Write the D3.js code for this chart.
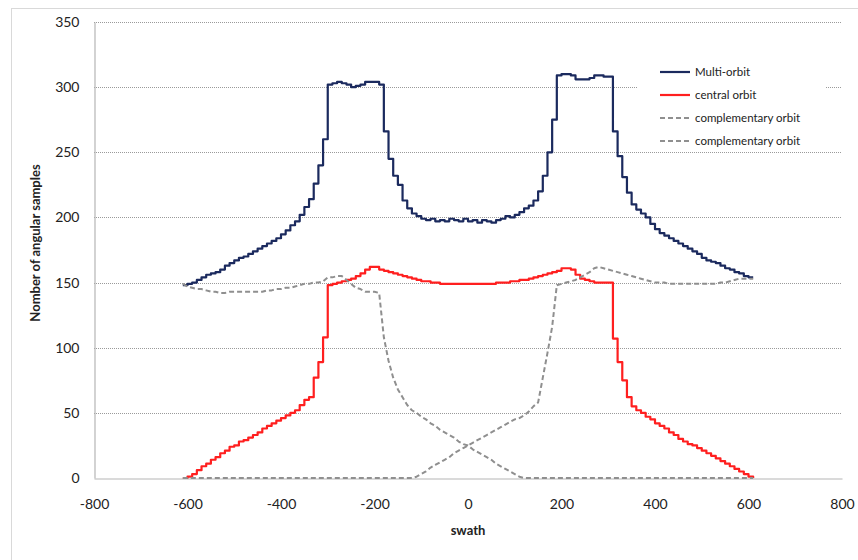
<!DOCTYPE html>
<html lang="en">
<head>
<meta charset="UTF-8">
<title>Angular samples across swath</title>
<style>
  body { margin: 0; background: #fff; }
  svg { display: block; font-family: Lato, 'Open Sans', sans-serif; }
</style>
<script src="https://cdn.jsdelivr.net/npm/d3@7"></script>
</head>
<body>
<svg id="chart" width="858" height="560"></svg>
<script>
// swath positions, one sample every 10 units from -610 to 610
const swath = d3.range(-610, 611, 10);

const multiOrbit = [
  148, 149, 150, 152, 154, 156, 157, 158, 160, 163, 165, 167, 169, 170, 172, 174, 176, 178, 180, 182,
  184, 187, 190, 194, 197, 202, 208, 214, 226, 240, 260, 302, 303, 304, 303, 302, 300, 301, 302, 304,
  304, 304, 302, 266, 245, 232, 225, 213, 207, 203, 201, 199, 198, 199, 197, 198, 197, 199, 198, 197,
  199, 197, 198, 196, 198, 197, 196, 198, 199, 201, 200, 202, 204, 207, 209, 213, 220, 232, 250, 275,
  309, 310, 310, 309, 306, 306, 306, 307, 309, 309, 308, 308, 266, 247, 231, 219, 210, 206, 203, 200,
  195, 191, 188, 186, 184, 182, 180, 178, 176, 174, 172, 169, 167, 166, 165, 163, 161, 160, 158, 157,
  155, 154, 154
];

const centralOrbit = [
  0, 1, 3, 6, 9, 11, 14, 16, 19, 21, 24, 25, 28, 29, 31, 33, 35, 38, 40, 42,
  44, 46, 48, 50, 52, 56, 60, 62, 77, 89, 108, 148, 149, 150, 151, 152, 153, 155, 157, 160,
  162, 162, 160, 159, 158, 157, 156, 155, 154, 153, 152, 151, 151, 150, 150, 149, 149, 149, 149, 149,
  149, 149, 149, 149, 149, 149, 149, 150, 150, 150, 151, 151, 152, 152, 153, 154, 155, 156, 157, 158,
  159, 161, 161, 160, 156, 153, 152, 151, 150, 150, 150, 150, 107, 89, 75, 62, 55, 52, 50, 47,
  45, 42, 40, 38, 35, 33, 30, 28, 26, 25, 23, 21, 19, 17, 15, 13, 11, 9, 7, 5,
  3, 1, 0
];

const complementaryLeft = [
  149, 147, 146, 145, 145, 144, 143, 143, 142, 142, 143, 143, 143, 143, 143, 143, 143, 143, 144, 144,
  145, 145, 146, 146, 147, 148, 149, 149, 150, 150, 151, 154, 154, 155, 155, 152, 149, 146, 145, 143,
  143, 143, 142, 108, 90, 77, 68, 62, 56, 52, 50, 47, 45, 42, 40, 37, 35, 33, 31, 28,
  26, 25, 22, 20, 18, 16, 14, 11, 9, 7, 5, 3, 1, 0, 0, 0, 0, 0, 0, 0,
  0, 0, 0, 0, 0, 0, 0, 0, 0, 0, 0, 0, 0, 0, 0, 0, 0, 0, 0, 0,
  0, 0, 0, 0, 0, 0, 0, 0, 0, 0, 0, 0, 0, 0, 0, 0, 0, 0, 0, 0,
  0, 0, 0
];

const complementaryRight = [
  0, 0, 0, 0, 0, 0, 0, 0, 0, 0, 0, 0, 0, 0, 0, 0, 0, 0, 0, 0,
  0, 0, 0, 0, 0, 0, 0, 0, 0, 0, 0, 0, 0, 0, 0, 0, 0, 0, 0, 0,
  0, 0, 0, 0, 0, 0, 0, 0, 0, 0, 1, 3, 5, 8, 10, 12, 14, 16, 19, 21,
  23, 25, 27, 29, 31, 33, 35, 37, 39, 41, 43, 45, 46, 48, 51, 55, 58, 77, 96, 116,
  148, 149, 150, 151, 152, 154, 156, 158, 161, 162, 161, 160, 159, 158, 157, 156, 155, 154, 153, 152,
  151, 150, 150, 150, 149, 149, 149, 149, 149, 149, 149, 149, 149, 149, 149, 150, 150, 151, 152, 153,
  153, 153, 153
];

const xTicks = [-800, -600, -400, -200, 0, 200, 400, 600, 800];
const yTicks = [0, 50, 100, 150, 200, 250, 300, 350];

const series = [
  { name: "Multi-orbit", values: multiOrbit, color: "#1b2a5e", dash: null, width: 2.2, step: true },
  { name: "central orbit", values: centralOrbit, color: "#ff1f1f", dash: null, width: 2.2, step: true },
  { name: "complementary orbit", values: complementaryLeft, color: "#8f8f8f", dash: "5,3", width: 2, step: false },
  { name: "complementary orbit", values: complementaryRight, color: "#8f8f8f", dash: "5,3", width: 2, step: false }
];

const svg = d3.select("#chart");

// outer chart frame (only left and top edges fall inside the picture)
svg.append("rect")
  .attr("x", 11.5).attr("y", 8.5)
  .attr("width", 900).attr("height", 600)
  .attr("fill", "none")
  .attr("stroke", "#d9d9d9");

const x = d3.scaleLinear().domain([-800, 800]).range([94, 842]);
const y = d3.scaleLinear().domain([0, 350]).range([478, 22]);

// gridlines
svg.append("g")
  .selectAll("line")
  .data(yTicks.filter(d => d > 0))
  .join("line")
  .attr("x1", x(-800)).attr("x2", x(800))
  .attr("y1", d => Math.round(y(d)) + 0.5)
  .attr("y2", d => Math.round(y(d)) + 0.5)
  .attr("stroke", "#9a9a9a")
  .attr("stroke-dasharray", "1,1");

// axes (plain hyphen for negatives, like the original)
const xAxis = svg.append("g")
  .attr("transform", `translate(0,${Math.round(y(0)) + 0.5})`)
  .call(d3.axisBottom(x).tickValues(xTicks).tickFormat(d => String(d)).tickSize(0).tickPadding(21));
const yAxis = svg.append("g")
  .attr("transform", `translate(${Math.round(x(-800)) + 0.5},0)`)
  .call(d3.axisLeft(y).tickValues(yTicks).tickFormat(d => String(d)).tickSize(0).tickPadding(15));

[xAxis, yAxis].forEach(a => {
  a.select(".domain").attr("stroke", "#b5b5b5").attr("stroke-width", 1.2);
  a.selectAll("text").attr("font-size", 14).attr("fill", "#222")
    .attr("font-family", "Lato, 'Open Sans', sans-serif");
});

// axis titles
svg.append("text")
  .attr("x", 468).attr("y", 535)
  .attr("text-anchor", "middle")
  .attr("font-size", 13).attr("font-weight", "bold").attr("fill", "#222")
  .text("swath");

svg.append("text")
  .attr("transform", "translate(40,243) rotate(-90)")
  .attr("text-anchor", "middle")
  .attr("font-size", 13).attr("font-weight", "bold").attr("fill", "#222")
  .text("Nomber of angular samples");

// legend background hides the gridline behind it
svg.append("rect")
  .attr("x", 638).attr("y", 60)
  .attr("width", 187).attr("height", 90)
  .attr("fill", "#fff");

// series
series.forEach(s => {
  const line = d3.line()
    .x((d, i) => x(swath[i]))
    .y(d => y(d))
    .curve(s.step ? d3.curveStepAfter : d3.curveLinear);
  svg.append("path")
    .datum(s.values)
    .attr("fill", "none")
    .attr("stroke", s.color)
    .attr("stroke-width", s.width)
    .attr("stroke-dasharray", s.dash)
    .attr("stroke-linejoin", "round")
    .attr("d", line);
});

// legend
const legend = svg.append("g")
  .selectAll("g")
  .data(series)
  .join("g")
  .attr("transform", (d, i) => `translate(660,${72 + i * 23})`);

legend.append("line")
  .attr("x1", 0).attr("x2", 30)
  .attr("stroke", d => d.color)
  .attr("stroke-width", d => d.width)
  .attr("stroke-dasharray", d => d.dash);

legend.append("text")
  .attr("x", 35).attr("dy", "0.35em")
  .attr("font-size", 11.5).attr("fill", "#222")
  .text(d => d.name);
</script>
</body>
</html>
